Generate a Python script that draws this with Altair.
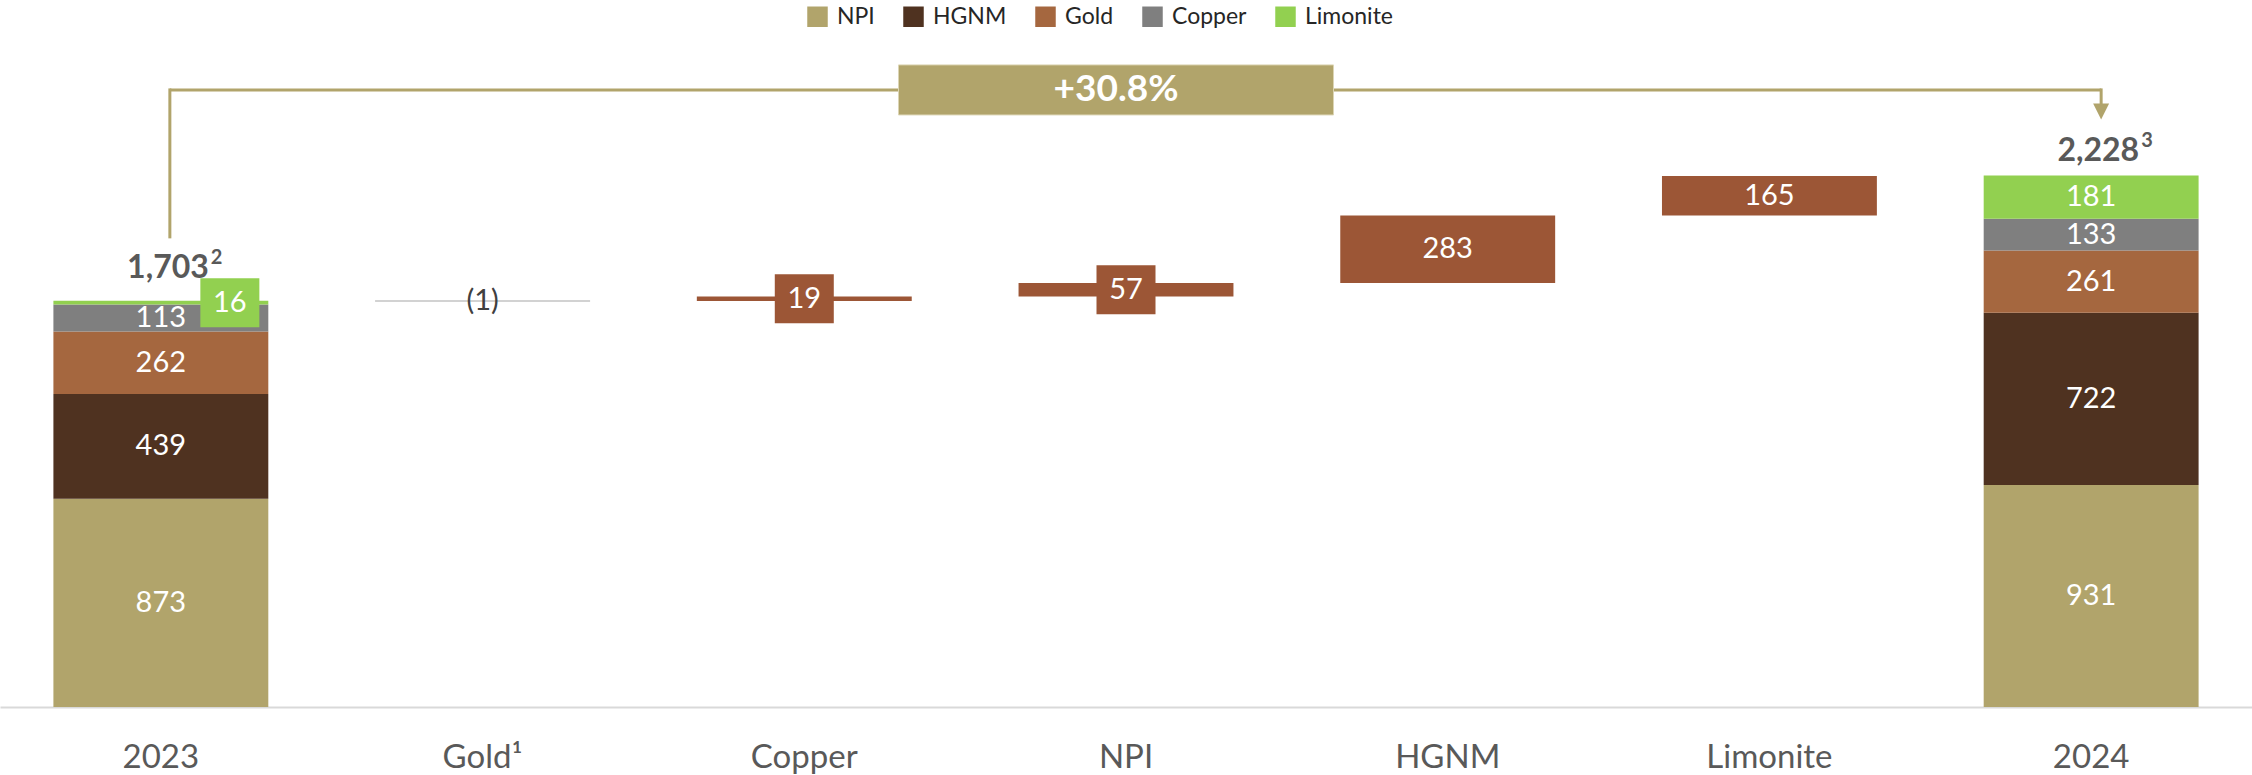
import altair as alt
import pandas as pd

# ---------------- data ----------------
categories = ["2023", "Gold¹", "Copper", "NPI", "HGNM", "Limonite", "2024"]
products = ["NPI", "HGNM", "Gold", "Copper", "Limonite"]
values_2023 = [873, 439, 262, 113, 16]
values_2024 = [931, 722, 261, 133, 181]
total_2023 = 1703
total_2024 = 2228
total_labels = ["1,703", "2,228"]
total_notes = ["2", "3"]
delta_categories = ["Gold¹", "Copper", "NPI", "HGNM", "Limonite"]
delta_values = [-1, 19, 57, 283, 165]

# ---------------- style / layout ----------------
product_colors = ["#B1A46B", "#4F3220", "#A5673F", "#7F7F7F", "#92D050"]
DELTA_COLOR = "#9C5636"
ACCENT = "#B1A46B"
TOTAL_TEXT = "#595959"
FONT = "Lato"
W, H = 2252, 707
YMAX = 2964
PX = H / YMAX
BRACKET_Y = 2587
LEFT_LOW = 1971
RIGHT_LOW = 2528
ARROW_Y = 2497
BOX_PATH = "M-1,-0.83L1,-0.83L1,0.83L-1,0.83Z"
BOX_SIZE = 59 ** 2

# ---------------- tables ----------------
stack_rows = []
for year, vals in (("2023", values_2023), ("2024", values_2024)):
    base = 0
    for i, (p, v) in enumerate(zip(products, vals)):
        stack_rows.append(dict(cat=year, product=p, start=base, end=base + v,
                               mid=base + v / 2, label=str(v), order=i,
                               boxed=v * PX < 20,
                               color=product_colors[i]))
        base += v
stack = pd.DataFrame(stack_rows)

delta_rows = []
run = total_2023
for c, d in zip(delta_categories, delta_values):
    kind = "neg" if d < 0 else ("box" if d * PX < 30 else "inside")
    delta_rows.append(dict(cat=c, start=run, end=run + d, mid=run + d / 2,
                           label=f"({abs(d)})" if d < 0 else str(d), kind=kind))
    run += d
delta = pd.DataFrame(delta_rows)

totals = pd.DataFrame({"cat": ["2023", "2024"], "total": [total_2023, total_2024],
                       "label": total_labels, "note": total_notes})
pct = (total_2024 / total_2023 - 1) * 100
pct_df = pd.DataFrame({"cat": ["NPI"], "y": [BRACKET_Y], "label": [f"+{pct:.1f}%"]})

x_enc = alt.X("cat:N", sort=categories, title=None,
              scale=alt.Scale(domain=categories, paddingInner=0.332, paddingOuter=0.166),
              axis=alt.Axis(labelFontSize=33, labelColor=TOTAL_TEXT, labelFont=FONT,
                            ticks=False, tickSize=0, labelPadding=60,
                            labelBaseline="alphabetic", domainColor="#D9D9D9",
                            domainWidth=2, grid=False, labelAngle=0))
yscale = alt.Scale(domain=[0, YMAX], nice=False, zero=True)


def Y(field):
    return alt.Y(field, scale=yscale, axis=None, title=None)


base_stack = alt.Chart(stack)
bars = base_stack.mark_bar().encode(
    x=x_enc, y=Y("start:Q"), y2="end:Q",
    color=alt.Color("product:N", scale=alt.Scale(domain=products, range=product_colors),
                    legend=alt.Legend(title=None, orient="none", legendX=806, legendY=5,
                                      direction="horizontal", symbolType="square",
                                      symbolSize=420, symbolStrokeWidth=0,
                                      labelFontSize=23, labelFont=FONT,
                                      labelColor="#262626", columnPadding=27,
                                      labelOffset=8, padding=0)),
)
stack_text = base_stack.transform_filter("!datum.boxed").mark_text(
    color="white", fontSize=29, font=FONT, baseline="middle"
).encode(x=x_enc, y=Y("mid:Q"), text="label:N")
stack_box = base_stack.transform_filter("datum.boxed").mark_point(
    shape=BOX_PATH, size=BOX_SIZE, filled=True, opacity=1, strokeWidth=0, xOffset=69
).encode(x=x_enc, y=Y("mid:Q"), color=alt.Color("color:N", scale=None))
stack_box_text = base_stack.transform_filter("datum.boxed").mark_text(
    color="white", fontSize=29, font=FONT, baseline="middle", xOffset=69
).encode(x=x_enc, y=Y("mid:Q"), text="label:N")

base_delta = alt.Chart(delta)
delta_bars = base_delta.transform_filter("datum.kind != 'neg'").mark_bar(
    color=DELTA_COLOR).encode(x=x_enc, y=Y("start:Q"), y2="end:Q")
neg_line = base_delta.transform_filter("datum.kind == 'neg'").mark_tick(
    orient="horizontal", size=215, thickness=2, color="#BFBFBF"
).encode(x=x_enc, y=Y("end:Q"))
neg_text = base_delta.transform_filter("datum.kind == 'neg'").mark_text(
    color="#404040", fontSize=29, font=FONT, baseline="middle"
).encode(x=x_enc, y=Y("end:Q"), text="label:N")
delta_box = base_delta.transform_filter("datum.kind == 'box'").mark_point(
    shape=BOX_PATH, size=BOX_SIZE, filled=True, opacity=1, strokeWidth=0, color=DELTA_COLOR
).encode(x=x_enc, y=Y("mid:Q"))
delta_text = base_delta.transform_filter("datum.kind != 'neg'").mark_text(
    color="white", fontSize=29, font=FONT, baseline="middle"
).encode(x=x_enc, y=Y("mid:Q"), text="label:N")

total_layers = []
for i, dy in enumerate([-23, -15]):
    src = alt.Chart(totals.iloc[[i]])
    total_layers.append(src.mark_text(
        fontSize=32, fontWeight="bold", font=FONT, color=TOTAL_TEXT,
        baseline="alphabetic", align="right", dy=dy, xOffset=48
    ).encode(x=x_enc, y=Y("total:Q"), text="label:N"))
    total_layers.append(src.mark_text(
        fontSize=20, fontWeight="bold", font=FONT, color=TOTAL_TEXT,
        baseline="alphabetic", align="left", dy=dy - 14, xOffset=50
    ).encode(x=x_enc, y=Y("total:Q"), text="note:N"))

# bracket
left_v = alt.Chart(pd.DataFrame({"cat": ["2023"], "y": [LEFT_LOW], "y2": [BRACKET_Y]})).mark_rule(
    color=ACCENT, strokeWidth=3, xOffset=9, strokeCap="square"
).encode(x=x_enc, y=Y("y:Q"), y2="y2:Q")
right_v = alt.Chart(pd.DataFrame({"cat": ["2024"], "y": [RIGHT_LOW], "y2": [BRACKET_Y]})).mark_rule(
    color=ACCENT, strokeWidth=3, xOffset=10, strokeCap="square"
).encode(x=x_enc, y=Y("y:Q"), y2="y2:Q")
horiz = alt.Chart(pd.DataFrame({"cat": ["2023"], "cat2": ["2024"], "y": [BRACKET_Y]})).mark_rule(
    color=ACCENT, strokeWidth=3, xOffset=9, x2Offset=10
).encode(x=x_enc, x2="cat2:N", y=Y("y:Q"))
arrow = alt.Chart(pd.DataFrame({"cat": ["2024"], "y": [ARROW_Y]})).mark_point(
    shape="M-1,-1L1,-1L0,1Z", size=256, filled=True, opacity=1, strokeWidth=0,
    color=ACCENT, xOffset=10
).encode(x=x_enc, y=Y("y:Q"))
pct_box = alt.Chart(pct_df).mark_point(
    shape="M-1,-0.115L1,-0.115L1,0.115L-1,0.115Z", size=435 ** 2, filled=True,
    opacity=1, color=ACCENT, stroke="#DCD5B4", strokeWidth=1, xOffset=-10
).encode(x=x_enc, y=Y("y:Q"))
pct_text = alt.Chart(pct_df).mark_text(
    color="white", fontSize=37, fontWeight="bold", font=FONT, baseline="middle", xOffset=-10
).encode(x=x_enc, y=Y("y:Q"), text="label:N")

chart = alt.layer(
    bars, stack_text, stack_box, stack_box_text,
    delta_bars, neg_line, neg_text, delta_box, delta_text,
    *total_layers, left_v, right_v, horiz, arrow, pct_box, pct_text
).properties(
    width=W, height=H,
    autosize=alt.AutoSizeParams(type="none"),
    padding={"left": 0, "top": 0, "right": 0, "bottom": 68},
).configure(font=FONT, background="white").configure_view(stroke=None, strokeWidth=0)

chart.save("out.html", embed_options={"renderer": "svg", "actions": False})
